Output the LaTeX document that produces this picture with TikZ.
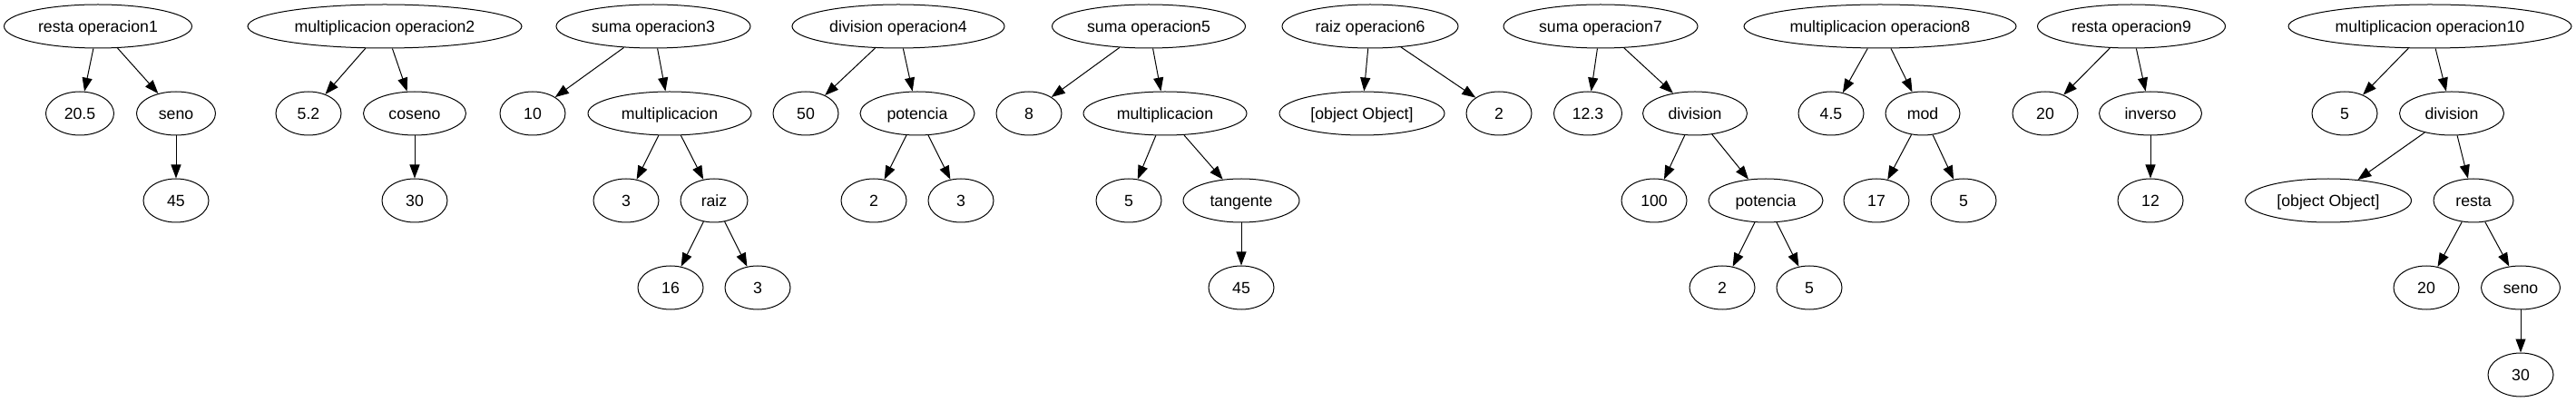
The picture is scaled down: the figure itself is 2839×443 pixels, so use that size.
\documentclass[tikz,border=0pt]{standalone}
\usepackage{fontspec}
\setmainfont{Liberation Sans}
\usetikzlibrary{shapes.geometric,arrows.meta}
\begin{document}
\begin{tikzpicture}[x=1pt,y=-1pt,
    op/.style={draw=black, ellipse, line width=1pt, minimum width=72pt, minimum height=48pt,
        font=\fontsize{17.7}{20}\selectfont, text height=12.7pt, text depth=0pt},
    link/.style={draw=black, line width=1pt, -{Triangle[length=15pt,width=11pt]}}]
            \tikzstyle{every node}+=[inner sep=0pt]
                \useasboundingbox (0,0) rectangle (2839,443);
                \node [op, minimum width=207pt] (t1) at (108,29) {resta operacion1};
                \node [op, minimum width=75pt] (t1a) at (88,125) {20.5};
                \node [op, minimum width=87pt] (t1b) at (194,125) {seno};
                \node [op] (t1ba) at (194,221) {45};
                \draw [link] (t1) -- (t1a);
                \draw [link] (t1) -- (t1b);
                \draw [link] (t1b) -- (t1ba);
                \node [op, minimum width=302pt] (t2) at (424,29) {multiplicacion operacion2};
                \node [op] (t2a) at (340,125) {5.2};
                \node [op, minimum width=113pt] (t2b) at (457,125) {coseno};
                \node [op] (t2ba) at (457,221) {30};
                \draw [link] (t2) -- (t2a);
                \draw [link] (t2) -- (t2b);
                \draw [link] (t2b) -- (t2ba);
                \node [op, minimum width=214pt] (t3) at (720,29) {suma operacion3};
                \node [op] (t3a) at (587,125) {10};
                \node [op, minimum width=180pt] (t3b) at (738,125) {multiplicacion};
                \node [op] (t3ba) at (690,221) {3};
                \node [op, minimum width=74pt] (t3bb) at (787,221) {raiz};
                \node [op] (t3bba) at (739,317) {16};
                \node [op] (t3bbb) at (835,317) {3};
                \draw [link] (t3) -- (t3a);
                \draw [link] (t3) -- (t3b);
                \draw [link] (t3b) -- (t3ba);
                \draw [link] (t3b) -- (t3bb);
                \draw [link] (t3bb) -- (t3bba);
                \draw [link] (t3bb) -- (t3bbb);
                \node [op, minimum width=234pt] (t4) at (990,29) {division operacion4};
                \node [op] (t4a) at (888,125) {50};
                \node [op, minimum width=126pt] (t4b) at (1011,125) {potencia};
                \node [op] (t4ba) at (963,221) {2};
                \node [op] (t4bb) at (1059,221) {3};
                \draw [link] (t4) -- (t4a);
                \draw [link] (t4) -- (t4b);
                \draw [link] (t4b) -- (t4ba);
                \draw [link] (t4b) -- (t4bb);
                \node [op, minimum width=213pt] (t5) at (1266,29) {suma operacion5};
                \node [op] (t5a) at (1134,125) {8};
                \node [op, minimum width=180pt] (t5b) at (1284,125) {multiplicacion};
                \node [op] (t5ba) at (1244,221) {5};
                \node [op, minimum width=128pt] (t5bb) at (1368,221) {tangente};
                \node [op] (t5bba) at (1368,317) {45};
                \draw [link] (t5) -- (t5a);
                \draw [link] (t5) -- (t5b);
                \draw [link] (t5b) -- (t5ba);
                \draw [link] (t5b) -- (t5bb);
                \draw [link] (t5bb) -- (t5bba);
                \node [op, minimum width=194pt] (t6) at (1510,29) {raiz operacion6};
                \node [op, minimum width=182pt] (t6a) at (1501,125) {[object Object]};
                \node [op] (t6b) at (1652,125) {2};
                \draw [link] (t6) -- (t6a);
                \draw [link] (t6) -- (t6b);
                \node [op, minimum width=214pt] (t7) at (1764,29) {suma operacion7};
                \node [op, minimum width=75pt] (t7a) at (1750,125) {12.3};
                \node [op, minimum width=115pt] (t7b) at (1868,125) {division};
                \node [op] (t7ba) at (1823,221) {100};
                \node [op, minimum width=126pt] (t7bb) at (1946,221) {potencia};
                \node [op] (t7bba) at (1898,317) {2};
                \node [op] (t7bbb) at (1994,317) {5};
                \draw [link] (t7) -- (t7a);
                \draw [link] (t7) -- (t7b);
                \draw [link] (t7b) -- (t7ba);
                \draw [link] (t7b) -- (t7bb);
                \draw [link] (t7bb) -- (t7bba);
                \draw [link] (t7bb) -- (t7bbb);
                \node [op, minimum width=300pt] (t8) at (2072,29) {multiplicacion operacion8};
                \node [op] (t8a) at (2018,125) {4.5};
                \node [op, minimum width=82pt] (t8b) at (2119,125) {mod};
                \node [op] (t8ba) at (2068,221) {17};
                \node [op] (t8bb) at (2164,221) {5};
                \draw [link] (t8) -- (t8a);
                \draw [link] (t8) -- (t8b);
                \draw [link] (t8b) -- (t8ba);
                \draw [link] (t8b) -- (t8bb);
                \node [op, minimum width=207pt] (t9) at (2349,29) {resta operacion9};
                \node [op] (t9a) at (2254,125) {20};
                \node [op, minimum width=113pt] (t9b) at (2370,125) {inverso};
                \node [op] (t9ba) at (2370,221) {12};
                \draw [link] (t9) -- (t9a);
                \draw [link] (t9) -- (t9b);
                \draw [link] (t9b) -- (t9ba);
                \node [op, minimum width=312pt] (t10) at (2678,29) {multiplicacion operacion10};
                \node [op] (t10a) at (2584,125) {5};
                \node [op, minimum width=115pt] (t10b) at (2702,125) {division};
                \node [op, minimum width=183pt] (t10ba) at (2566,221) {[object Object]};
                \node [op, minimum width=88pt] (t10bb) at (2726,221) {resta};
                \node [op] (t10bba) at (2674,317) {20};
                \node [op, minimum width=87pt] (t10bbb) at (2778,317) {seno};
                \node [op] (t10bbba) at (2778,413) {30};
                \draw [link] (t10) -- (t10a);
                \draw [link] (t10) -- (t10b);
                \draw [link] (t10b) -- (t10ba);
                \draw [link] (t10b) -- (t10bb);
                \draw [link] (t10bb) -- (t10bba);
                \draw [link] (t10bb) -- (t10bbb);
                \draw [link] (t10bbb) -- (t10bbba);
            \end{tikzpicture}
\end{document}
